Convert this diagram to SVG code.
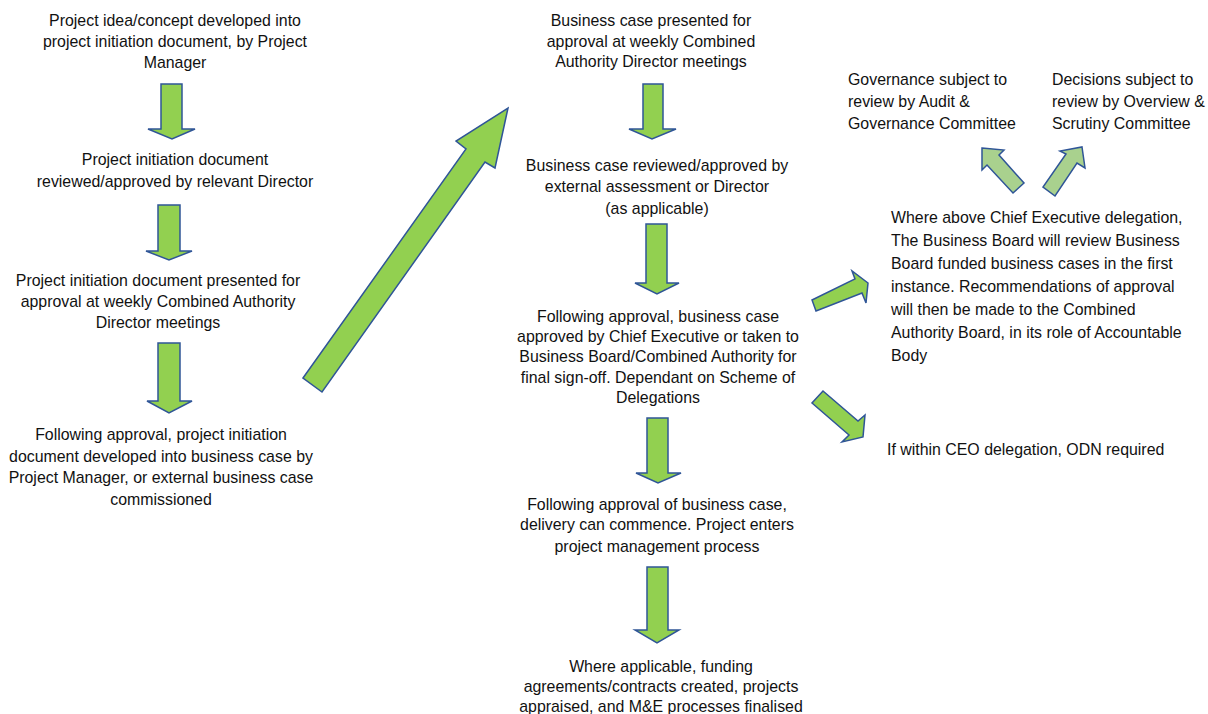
<svg xmlns="http://www.w3.org/2000/svg" width="1208" height="714" viewBox="0 0 1208 714">
<style>
text{font-family:"Liberation Sans",Arial,sans-serif;font-size:15.9px;fill:#111}
.c{text-anchor:middle}
.a{fill:#92D050;stroke:#2F5597;stroke-width:1.5;stroke-linejoin:miter}
.l{fill:#A9D18E;stroke:#2F5597;stroke-width:1.5}
</style>
<rect width="1208" height="714" fill="#fff"/>
<g id="n1"><text class="c" x="175" y="26">Project idea/concept developed into</text><text class="c" x="175" y="47">project initiation document, by Project</text><text class="c" x="175" y="68">Manager</text></g>
<g id="n2"><text class="c" x="175" y="165">Project initiation document</text><text class="c" x="175" y="187">reviewed/approved by relevant Director</text></g>
<g id="n3"><text class="c" x="158" y="286">Project initiation document presented for</text><text class="c" x="158" y="307">approval at weekly Combined Authority</text><text class="c" x="158" y="328">Director meetings</text></g>
<g id="n4"><text class="c" x="161" y="440">Following approval, project initiation</text><text class="c" x="161" y="462">document developed into business case by</text><text class="c" x="161" y="483">Project Manager, or external business case</text><text class="c" x="161" y="505">commissioned</text></g>
<g id="m1"><text class="c" x="651" y="26">Business case presented for</text><text class="c" x="651" y="47">approval at weekly Combined</text><text class="c" x="651" y="67">Authority Director meetings</text></g>
<g id="m2"><text class="c" x="657" y="171">Business case reviewed/approved by</text><text class="c" x="657" y="192">external assessment or Director</text><text class="c" x="657" y="214">(as applicable)</text></g>
<g id="m3"><text class="c" x="658" y="322">Following approval, business case</text><text class="c" x="658" y="342">approved by Chief Executive or taken to</text><text class="c" x="658" y="362">Business Board/Combined Authority for</text><text class="c" x="658" y="383">final sign-off. Dependant on Scheme of</text><text class="c" x="658" y="403">Delegations</text></g>
<g id="m4"><text class="c" x="657" y="510">Following approval of business case,</text><text class="c" x="657" y="530">delivery can commence. Project enters</text><text class="c" x="657" y="552">project management process</text></g>
<g id="m5"><text class="c" x="661" y="672">Where applicable, funding</text><text class="c" x="661" y="692">agreements/contracts created, projects</text><text class="c" x="661" y="712">appraised, and M&amp;E processes finalised</text></g>
<g id="r1"><text x="848" y="85">Governance subject to</text><text x="848" y="107">review by Audit &amp;</text><text x="848" y="129">Governance Committee</text></g>
<g id="r2"><text x="1052" y="85">Decisions subject to</text><text x="1052" y="107">review by Overview &amp;</text><text x="1052" y="129">Scrutiny Committee</text></g>
<g id="r3"><text x="891" y="223">Where above Chief Executive delegation,</text><text x="891" y="246">The Business Board will review Business</text><text x="891" y="269">Board funded business cases in the first</text><text x="891" y="292">instance. Recommendations of approval</text><text x="891" y="315">will then be made to the Combined</text><text x="891" y="338">Authority Board, in its role of Accountable</text><text x="891" y="361">Body</text></g>
<g id="r4"><text x="887" y="455">If within CEO delegation, ODN required</text></g>
<g id="connectors">
<polygon class="a" points="161,84 182,84 182,129 195,129 172,139 148,129 161,129"/>
<polygon class="a" points="158,205 180,205 180,251 192,251 169,260 146,251 158,251"/>
<polygon class="a" points="158,343 180,343 180,401 192,401 169,413 147,401 158,401"/>
<polygon class="a" points="303,378 466,149 456,141 508,108 495,168 485,162 322,392"/>
<polygon class="a" points="643,84 663,84 663,129 676,129 652,139 629,129 643,129"/>
<polygon class="a" points="646,224 667,224 667,283 679,283 657,294 635,283 646,283"/>
<polygon class="a" points="647,418 668,418 668,473 681,473 658,483 636,473 647,473"/>
<polygon class="a" points="647,567 668,567 668,630 679,630 657,643 635,630 647,630"/>
<polygon class="a" points="812,300 855,279 852,271 868,283 866,303 862,293 816,311"/>
<polygon class="a" points="823,391 858,421 865,415 863,437 842,442 849,435 812,403"/>
<polygon class="l" points="982,148 1004,150 999,155 1024,183 1013,193 987,165 982,170"/>
<polygon class="l" points="1082,147 1085,168 1077,163 1055,196 1043,187 1066,154 1060,151"/>
</g>
</svg>
